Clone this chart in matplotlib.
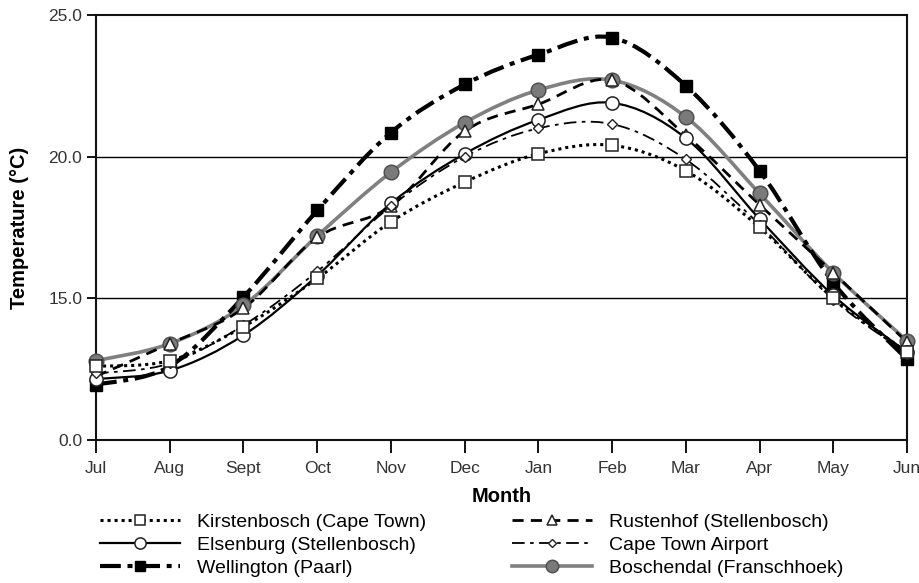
import matplotlib
matplotlib.use("Agg")
import matplotlib.pyplot as plt
from matplotlib.path import Path
from matplotlib.patches import PathPatch
from matplotlib.lines import Line2D
import numpy as np

plt.rcParams['font.family'] = ['Liberation Sans', 'DejaVu Sans']

months = ['Jul', 'Aug', 'Sept', 'Oct', 'Nov', 'Dec', 'Jan', 'Feb', 'Mar', 'Apr', 'May', 'Jun']

kirstenbosch = [12.6, 12.8, 14.0, 15.7, 17.7, 19.1, 20.1, 20.4, 19.5, 17.5, 15.0, 13.1]
elsenburg    = [12.15, 12.45, 13.7, 15.8, 18.35, 20.1, 21.3, 21.9, 20.65, 17.8, 15.1, 13.1]
wellington   = [11.95, 12.6, 15.05, 18.1, 20.85, 22.55, 23.6, 24.2, 22.5, 19.5, 15.55, 12.85]
rustenhof    = [12.25, 13.4, 14.65, 17.15, 18.25, 20.9, 21.85, 22.7, 20.75, 18.3, 15.9, 13.45]
airport      = [12.35, 12.7, 14.05, 15.95, 18.25, 20.0, 21.0, 21.15, 19.9, 17.6, 14.95, 13.05]
boschendal   = [12.8, 13.4, 14.75, 17.2, 19.45, 21.2, 22.35, 22.7, 21.4, 18.7, 15.9, 13.5]

series_names = ['Kirstenbosch (Cape Town)', 'Elsenburg (Stellenbosch)', 'Wellington (Paarl)',
                'Rustenhof (Stellenbosch)', 'Cape Town Airport', 'Boschendal (Franschhoek)']
series_values = [kirstenbosch, elsenburg, wellington, rustenhof, airport, boschendal]

ytick_values = [10, 15, 20, 25]
ytick_labels = ['0.0', '15.0', '20.0', '25.0']

styles = [
    dict(color='black', lw=2.2, ls=(0, (1, 1.3)), marker='s', ms=8, mfc='white', mec='#222222', mew=1.1),
    dict(color='black', lw=1.6, ls='-', marker='o', ms=9.5, mfc='white', mec='#222222', mew=1.1),
    dict(color='black', lw=3.0, ls=(0, (5, 1.6, 1.2, 1.6)), marker='s', ms=8.5, mfc='black', mec='black', mew=1.0),
    dict(color='black', lw=2.0, ls=(0, (4, 2.6)), marker='^', ms=9, mfc='white', mec='#222222', mew=1.1),
    dict(color='black', lw=1.3, ls=(0, (7, 3, 2, 3)), marker='D', ms=5, mfc='white', mec='#222222', mew=1.0),
    dict(color='#808080', lw=2.6, ls='-', marker='o', ms=10.5, mfc='#7a7a7a', mec='#505050', mew=1.1),
]


def smooth_path(xs, ys, t=1.0 / 6.0):
    n = len(xs)
    verts = [(xs[0], ys[0])]
    codes = [Path.MOVETO]
    for i in range(n - 1):
        p0 = i - 1 if i > 0 else i
        p3 = i + 2 if i + 2 < n else i + 1
        c1 = (xs[i] + (xs[i + 1] - xs[p0]) * t, ys[i] + (ys[i + 1] - ys[p0]) * t)
        c2 = (xs[i + 1] - (xs[p3] - xs[i]) * t, ys[i + 1] - (ys[p3] - ys[i]) * t)
        verts += [c1, c2, (xs[i + 1], ys[i + 1])]
        codes += [Path.CURVE4] * 3
    return Path(verts, codes)


fig = plt.figure(figsize=(9.19, 5.83), dpi=100)
ax = fig.add_axes([0.1045, 0.2453, 0.8825, 0.729])

x = np.arange(len(months))
line_order = [5, 2, 3, 1, 4, 0]
marker_order = [2, 5, 3, 1, 4, 0]
handles = {}
for rank, k in enumerate(line_order):
    st = styles[k]
    vals = series_values[k]
    patch = PathPatch(smooth_path(list(x), vals), facecolor='none', edgecolor=st['color'],
                      lw=st['lw'], ls=st['ls'], capstyle='butt', zorder=2 + rank * 0.1)
    ax.add_patch(patch)
for rank, k in enumerate(marker_order):
    st = styles[k]
    vals = series_values[k]
    ax.plot(x, vals, ls='none', marker=st['marker'], ms=st['ms'], mfc=st['mfc'],
            mec=st['mec'], mew=st['mew'], zorder=4 + rank * 0.1, clip_on=False)
for k in range(6):
    st = styles[k]
    handles[k] = Line2D([], [], color=st['color'], lw=st['lw'], ls=st['ls'],
                        marker=st['marker'], ms=st['ms'] * 0.85, mfc=st['mfc'], mec=st['mec'],
                        mew=st['mew'])

ax.set_xlim(0, len(months) - 1)
ax.set_ylim(10, 25)
ax.set_xticks(x)
ax.set_xticklabels(months)
ax.set_yticks(ytick_values)
ax.set_yticklabels(ytick_labels)
for yv in ytick_values[1:-1]:
    ax.axhline(yv, color='black', lw=1.0, zorder=1)

for s in ax.spines.values():
    s.set_linewidth(1.5)
    s.set_color('#111111')
ax.tick_params(axis='both', direction='out', width=1.4, labelsize=12.5,
               labelcolor='#333333', color='#111111')
ax.tick_params(axis='x', length=9, pad=6)
ax.tick_params(axis='y', length=6.5, pad=3.5)

ax.set_xlabel('Month', fontsize=14.5, fontweight='bold', labelpad=8)
ax.set_ylabel('Temperature (°C)', fontsize=14.5, fontweight='bold')
ax.yaxis.set_label_coords(-0.083, 0.5)

leg = fig.legend([handles[i] for i in range(6)], series_names, ncol=2,
                 loc='upper left', bbox_to_anchor=(100 / 919, 1 - 513 / 583),
                 bbox_transform=fig.transFigure,
                 frameon=False, fontsize=14, handlelength=4.1, handletextpad=0.87,
                 columnspacing=4.45, labelspacing=0.28, borderpad=0, borderaxespad=0,
                 numpoints=1)

fig.savefig('out.png', dpi=100)
